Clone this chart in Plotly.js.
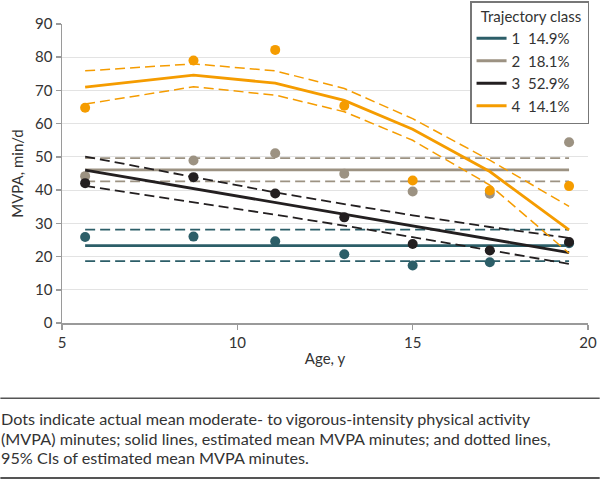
<!DOCTYPE html>
<html>
<head>
<meta charset="utf-8">
<script src="https://cdn.plot.ly/plotly-3.0.1.min.js"></script>
<style>
html,body{margin:0;padding:0;background:#fff;}
#chart{width:600px;height:480px;}
</style>
</head>
<body>
<div id="chart"></div>
<script>
// Ages (years) at each measurement wave
const ages = [5.66, 8.75, 11.08, 13.05, 15.0, 17.2, 19.46];

// Legend labels
const classLabels = ['1\u00a0\u00a014.9%', '2\u00a0\u00a018.1%', '3\u00a0\u00a052.9%', '4\u00a0\u00a014.1%'];

// Class 1
const obs1 = [25.9, 26.0, 24.6, 20.7, 17.3, 18.3, 24.0];
const est1 = [23.3, 23.3, 23.3, 23.3, 23.3, 23.3, 23.3];
const hi1  = [28.1, 28.1, 28.1, 28.1, 28.1, 28.1, 28.1];
const lo1  = [18.6, 18.6, 18.6, 18.6, 18.6, 18.6, 18.6];

// Class 2
const obs2 = [44.2, 48.9, 51.1, 44.9, 39.6, 38.9, 54.4];
const est2 = [46.1, 46.1, 46.1, 46.1, 46.1, 46.1, 46.1];
const hi2  = [49.6, 49.6, 49.6, 49.6, 49.6, 49.6, 49.6];
const lo2  = [42.6, 42.6, 42.6, 42.6, 42.6, 42.6, 42.6];

// Class 3
const obs3 = [42.1, 43.9, 39.0, 31.8, 23.8, 21.8, 24.4];
const est3 = [46.0, 40.4, 36.2, 32.7, 29.2, 25.2, 21.2];
const hi3  = [50.1, 43.9, 39.3, 35.8, 32.4, 28.9, 25.6];
const lo3  = [41.3, 36.4, 32.6, 29.3, 25.9, 21.9, 17.8];

// Class 4
const obs4 = [64.8, 79.0, 82.2, 65.4, 42.9, 39.9, 41.2];
const est4 = [71.0, 74.6, 72.2, 67.0, 58.3, 45.6, 28.0];
const hi4  = [75.9, 78.0, 75.9, 70.6, 61.5, 49.0, 35.1];
const lo4  = [65.9, 71.1, 68.6, 63.6, 55.0, 41.5, 21.0];

const xTicks = [5, 10, 15, 20];
const yTicks = [0, 10, 20, 30, 40, 50, 60, 70, 80, 90];

const captionLines = [
  'Dots indicate actual mean moderate- to vigorous-intensity physical activity',
  '(MVPA) minutes; solid lines, estimated mean MVPA minutes; and dotted lines,',
  '95% CIs of estimated mean MVPA minutes.'
];

const colors = ['#2c5e68', '#9c9282', '#231f20', '#f59c00'];
const groups = [
  {obs: obs1, est: est1, hi: hi1, lo: lo1},
  {obs: obs2, est: est2, hi: hi2, lo: lo2},
  {obs: obs3, est: est3, hi: hi3, lo: lo3},
  {obs: obs4, est: est4, hi: hi4, lo: lo4}
];

const traces = [];
groups.forEach((g, i) => {
  const c = colors[i];
  const dw = i === 3 ? 1.5 : 1.8;
  traces.push({x: ages, y: g.hi, mode: 'lines', line: {color: c, width: dw, dash: '10px,5px'}, showlegend: false, hoverinfo: 'skip'});
  traces.push({x: ages, y: g.lo, mode: 'lines', line: {color: c, width: dw, dash: '10px,5px'}, showlegend: false, hoverinfo: 'skip'});
  traces.push({x: ages, y: g.est, mode: 'lines', name: classLabels[i], line: {color: c, width: 2.8}, showlegend: true});
  traces.push({x: ages, y: g.obs, mode: 'markers', marker: {color: c, size: 10}, showlegend: false});
});

const FONT = 'Lato, "Noto Sans", sans-serif';
const pTop = 24, pBottom = 323.3, pLeft = 61.7, pRight = 588.3;
const ph = pBottom - pTop, pw = pRight - pLeft;
const py = p => (pBottom - p) / ph;
const px = p => (p - pLeft) / pw;

const captionY = [419, 438.5, 458];

const layout = {
  width: 600, height: 480,
  margin: {l: pLeft, r: 600 - pRight, t: pTop, b: 480 - pBottom, pad: 0, autoexpand: false},
  paper_bgcolor: '#fff', plot_bgcolor: '#fff',
  font: {family: FONT, size: 15, color: '#333'},
  showlegend: true,
  legend: {
    title: {text: '\u00a0\u00a0Trajectory class\u00a0', font: {family: FONT, size: 15, color: '#333'}},
    x: 1.002, xanchor: 'right', y: py(1), yanchor: 'top',
    bordercolor: '#777', borderwidth: 1.5, bgcolor: '#fff',
    font: {family: FONT, size: 15, color: '#333'},
    itemwidth: 30, traceorder: 'normal'
  },
  xaxis: {
    range: [5, 20], tickvals: xTicks, ticktext: xTicks.map(String),
    showgrid: false, zeroline: false, automargin: false,
    showline: true, linecolor: '#9a9a9a', linewidth: 1.5,
    ticks: 'outside', ticklen: 5, tickcolor: '#9a9a9a', tickwidth: 1.5,
    tickfont: {family: FONT, size: 15, color: '#333'},
    title: {text: 'Age, y', font: {family: FONT, size: 15, color: '#333'}, standoff: 4}
  },
  yaxis: {
    range: [0, 90], tickvals: yTicks, ticktext: yTicks.map(String),
    showgrid: true, gridcolor: '#e3e3e3', gridwidth: 1.2, zeroline: false, automargin: false,
    showline: true, linecolor: '#9a9a9a', linewidth: 1.5,
    ticks: 'outside', ticklen: 5, tickcolor: '#9a9a9a', tickwidth: 1.5,
    tickfont: {family: FONT, size: 15, color: '#333'},
    title: {text: 'MVPA, min/d', font: {family: FONT, size: 15, color: '#333'}, standoff: 8}
  },
  shapes: [
    {type: 'line', xref: 'paper', yref: 'paper', x0: px(0), x1: px(600), y0: py(398.7), y1: py(398.7), line: {color: '#555', width: 1.5}},
    {type: 'line', xref: 'paper', yref: 'paper', x0: px(0), x1: px(600), y0: py(478.5), y1: py(478.5), line: {color: '#555', width: 2}}
  ],
  annotations: captionLines.map((t, k) => ({
    xref: 'paper', yref: 'paper', x: px(0), y: py(captionY[k]), xanchor: 'left', yanchor: 'middle',
    align: 'left', showarrow: false, borderpad: 0,
    font: {family: FONT, size: 16.2, color: '#333'}, text: t
  }))
};

Plotly.newPlot('chart', traces, layout, {displayModeBar: false, staticPlot: true});
</script>
</body>
</html>
